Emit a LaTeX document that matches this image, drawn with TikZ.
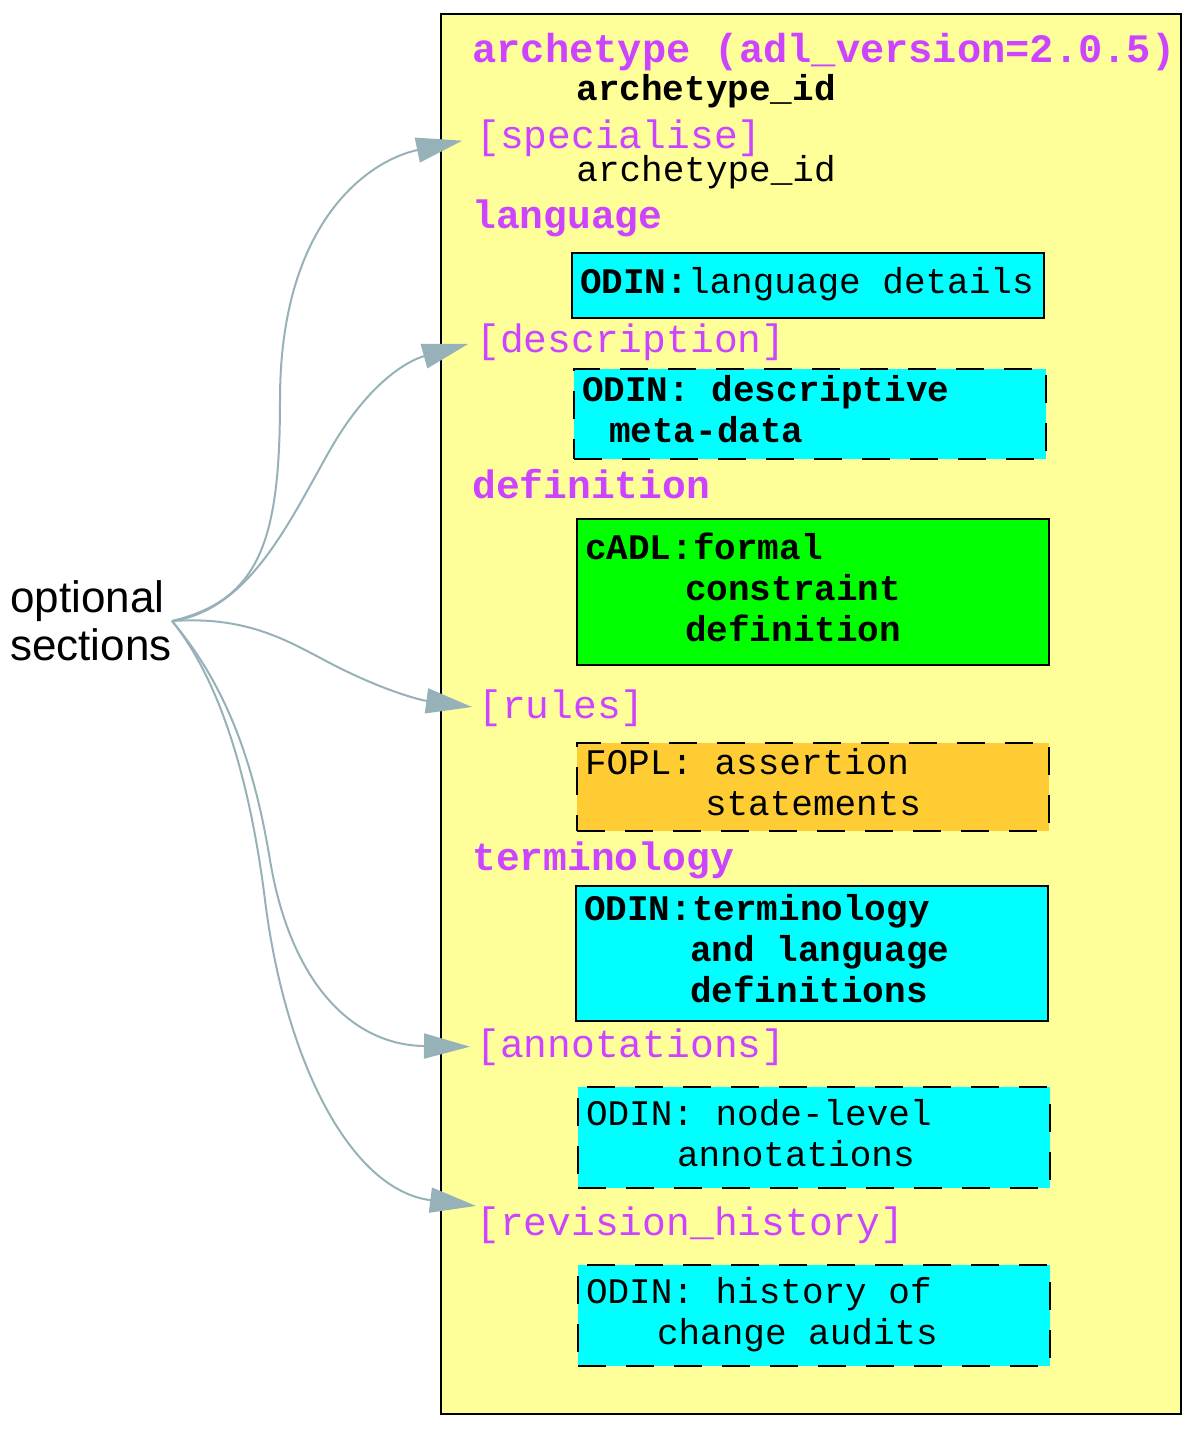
\documentclass[tikz,border=0pt]{standalone}
\usepackage{fontspec}
\setmainfont{Liberation Sans}
\newfontfamily\monofont{Liberation Mono}
\usetikzlibrary{arrows.meta}
\definecolor{paper}{RGB}{255,255,153}
\definecolor{keyword}{RGB}{204,68,255}
\definecolor{odin}{RGB}{0,255,255}
\definecolor{cadl}{RGB}{0,255,0}
\definecolor{fopl}{RGB}{255,204,51}
\definecolor{edgegray}{RGB}{150,178,184}

\begin{document}
\begin{tikzpicture}[
    x=0.5pt,y=-0.5pt,
    kw/.style={anchor=base west,inner sep=0pt,text=keyword,
      font=\monofont\fontsize{19.8}{22}\selectfont},
    kwb/.style={kw,font=\monofont\bfseries\fontsize{19.8}{22}\selectfont},
    idtext/.style={anchor=base west,inner sep=0pt,font=\monofont\fontsize{18}{20.5}\selectfont},
    sect/.style={anchor=north west,draw=black,line width=1pt,inner xsep=4pt,inner ysep=0pt,
      text width=228pt,align=flush left,font=\monofont\fontsize{18}{20.5}\selectfont},
    sectb/.style={sect,font=\monofont\bfseries\fontsize{18}{20.5}\selectfont},
    dashbox/.style={dash pattern=on 14pt off 10pt},
    arr/.style={-{Triangle[length=23pt,width=12.5pt]},line width=1pt,draw=edgegray}
  ]
  \useasboundingbox (0,0) rectangle (1194,1431);

  % archetype container
  \node[draw,fill=paper,line width=1pt,inner sep=0pt,anchor=north west,
    minimum width=370pt,minimum height=700pt] (adl) at (440,13) {};

  \node[kwb,font=\monofont\bfseries\fontsize{20.2}{22}\selectfont] (title) at (472,62)
    {archetype (adl\_version=2.0.5)};
  \node[idtext,font=\monofont\bfseries\fontsize{18}{20.5}\selectfont] (aid) at (576,100) {archetype\_id};
  \node[kw] (spec) at (476,148) {[specialise]};
  \node[idtext] (paid) at (576,181) {archetype\_id};

  \node[kwb] (lang) at (472,228) {language};
  \node[sect,fill=odin,minimum height=32.5pt] (langbox) at (571,252)
    {\strut\textbf{ODIN:}language details};

  \node[kw] (desc) at (476,352) {[description]};
  \node[sectb,dashbox,fill=odin,minimum height=45pt] (descbox) at (573,368)
    {\strut ODIN: descriptive\\\strut\hspace*{13.5pt}meta-data};

  \node[kwb] (defn) at (472,498) {definition};
  \node[sectb,fill=cadl,minimum height=73pt] (defbox) at (576,518)
    {\strut cADL:formal\\\strut\hspace*{50pt}constraint\\\strut\hspace*{50pt}definition};

  \node[kw] (rules) at (478,718) {[rules]};
  \node[sect,dashbox,fill=fopl,minimum height=44pt] (rulesbox) at (576,742)
    {\strut FOPL: assertion\\\strut\hspace*{60pt}statements};

  \node[kwb] (term) at (472,870) {terminology};
  \node[sectb,fill=odin,minimum height=67.5pt] (termbox) at (575,885)
    {\strut ODIN:terminology\\\strut\hspace*{53pt}and language\\\strut\hspace*{53pt}definitions};

  \node[kw] (annot) at (476,1057) {[annotations]};
  \node[sect,dashbox,fill=odin,minimum height=50.5pt] (annotbox) at (577,1086)
    {\strut ODIN: node-level\\\strut\hspace*{45.5pt}annotations};

  \node[kw] (rev) at (476,1235) {[revision\_history]};
  \node[sect,dashbox,fill=odin,minimum height=50.5pt] (revbox) at (577,1264)
    {\strut ODIN: history of\\\strut\hspace*{35.5pt}change audits};

  % optional sections
  \node[font=\fontsize{22}{24}\selectfont,align=left,inner sep=0pt,anchor=east] (optsec) at (172,621)
    {optional\\sections};

  \draw[arr,shorten >=7pt] (optsec.east) .. controls (260,600) and (280,540) .. (280,400)
    .. controls (280,220) and (370,160) .. (spec.west);
  \draw[arr,shorten >=4pt] (optsec.east) .. controls (250,610) and (290,520) .. (330,450)
    .. controls (370,380) and (410,360) .. (desc.west);
  \draw[arr,shorten >=3pt] (optsec.east) .. controls (260,615) and (300,650) .. (350,673)
    .. controls (390,692) and (420,700) .. (rules.west);
  \draw[arr,shorten >=3pt] (optsec.east) .. controls (230,690) and (255,770) .. (270,860)
    .. controls (290,980) and (350,1045) .. (annot.west);
  \draw[arr] (optsec.east) .. controls (220,680) and (250,780) .. (265,900)
    .. controls (285,1060) and (350,1190) .. (rev.north west);
\end{tikzpicture}
\end{document}
